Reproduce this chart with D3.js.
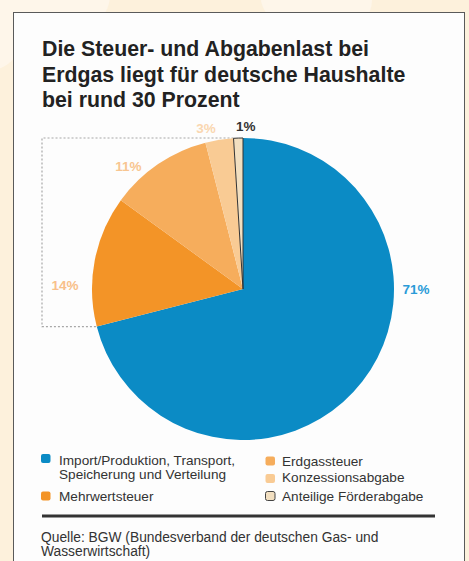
<!DOCTYPE html>
<html><head><meta charset="utf-8">
<script src="https://cdn.jsdelivr.net/npm/d3@7"></script>
<style>html,body{margin:0;padding:0;background:#fdf1dc;}svg{display:block;}</style>
</head><body>
<script>
// ---- data ----
const categories = ["Import/Produktion, Transport, Speicherung und Verteilung","Mehrwertsteuer","Erdgassteuer","Konzessionsabgabe","Anteilige Förderabgabe"];
const shares = [71, 14, 11, 3, 1];
const valueLabels = ["71%", "14%", "11%", "3%", "1%"];
const titleLines = ["Die Steuer- und Abgabenlast bei","Erdgas liegt für deutsche Haushalte","bei rund 30 Prozent"];
const legendLeft = [["Import/Produktion, Transport,","Speicherung und Verteilung"],["Mehrwertsteuer"]];
const legendRight = [["Erdgassteuer"],["Konzessionsabgabe"],["Anteilige Förderabgabe"]];
const sourceLines = ["Quelle: BGW (Bundesverband der deutschen Gas- und","Wasserwirtschaft)"];

// ---- styles / layout ----
const W = 469, H = 561;
const colors = ["#0b8bc5","#f39427","#f6ad5c","#f9cb94","#f2dfc0"];
const labelColors = ["#2a9bd8","#f8c08a","#f8c691","#fad7b0","#333333"];
const labelAngleDeg = [90, 271, 317, 347, 1];
const labelRadius = [173, 178, 168, 165, 163];
const font = "'Liberation Sans', Arial, Helvetica, sans-serif";
const cx = 243, cy = 289, R = 151;

const svg = d3.select("body").append("svg").attr("width", W).attr("height", H);

// background clouds
const bg = svg.append("g");
bg.append("rect").attr("width", W).attr("height", H).attr("fill", "#fdf1dc");
[[30,-10,40],[75,-5,35],[300,-8,40],[340,0,32],[-10,40,30]].forEach(c=>{
  bg.append("circle").attr("cx",c[0]).attr("cy",c[1]).attr("r",c[2]).attr("fill","#fef6ea");
});

// panel
svg.append("rect").attr("x", 13.5).attr("y", 12.5).attr("width", 451).attr("height", 560)
  .attr("fill", "#fdfdfd").attr("stroke", "#5a5a5a").attr("stroke-width", 1);

// title
const title = svg.append("g");
const titleBase = [56, 81.5, 107];
titleLines.forEach((t,i)=>{
  title.append("text").attr("x", 42).attr("y", titleBase[i])
    .attr("font-family", font).attr("font-weight", "bold").attr("font-size", 21.3)
    .attr("fill", "#222").text(t);
});

// pie
const pie = d3.pie().sort(null).value(d=>d).startAngle(0).endAngle(2*Math.PI);
const arcs = pie(shares);
const arc = d3.arc().innerRadius(0).outerRadius(R);
const pt = (a, r) => [cx + r*Math.sin(a), cy - r*Math.cos(a)];

// dotted bracket around tax slices
const taxStart = arcs[1].startAngle;
const lastStart = arcs[arcs.length-1].startAngle;
const bl = pt(taxStart, R);
const tr = pt(lastStart, R);
const leftX = 42;
svg.append("path")
  .attr("d", `M${tr[0]},${cy-R} L${leftX},${cy-R} L${leftX},${bl[1]} L${bl[0]},${bl[1]}`)
  .attr("fill","none").attr("stroke","#a8a8a8").attr("stroke-width",1.2).attr("stroke-dasharray","2,2");

const g = svg.append("g").attr("transform", `translate(${cx},${cy})`);
g.selectAll("path.slice").data(arcs).join("path").attr("class","slice")
  .attr("d", arc).attr("fill", (d,i)=>colors[i])
  .attr("stroke", (d,i)=> i===arcs.length-1 ? "#333" : "none")
  .attr("stroke-width", 1);

// value labels
svg.selectAll("text.val").data(arcs).join("text").attr("class","val")
  .attr("x", (d,i)=> pt(labelAngleDeg[i]*Math.PI/180, labelRadius[i])[0])
  .attr("y", (d,i)=> pt(labelAngleDeg[i]*Math.PI/180, labelRadius[i])[1])
  .attr("text-anchor","middle").attr("dominant-baseline","central")
  .attr("font-family", font).attr("font-weight","bold").attr("font-size", 13.5)
  .attr("fill", (d,i)=>labelColors[i]).text((d,i)=>valueLabels[i]);

// legend
const leg = svg.append("g").attr("font-family", font).attr("font-size", 13.6).attr("fill", "#333");
const leftRows = [[454, 465], [491.5, 501]];
legendLeft.forEach((lines,i)=>{
  const [sy, by] = leftRows[i];
  leg.append("rect").attr("x",41).attr("y",sy).attr("width",9.5).attr("height",9).attr("rx",2)
    .attr("fill", colors[i]);
  lines.forEach((t,j)=> leg.append("text").attr("x",59).attr("y",by+j*13.5).text(t));
});
const rightRows = [[456.5, 465.5], [474, 482], [491.5, 501]];
legendRight.forEach((lines,i)=>{
  const [sy, by] = rightRows[i];
  const k = i + 2;
  leg.append("rect").attr("x",265.5).attr("y",sy).attr("width",9.5).attr("height",9).attr("rx",2)
    .attr("fill", colors[k]).attr("stroke", k===4 ? "#444" : "none").attr("stroke-width",1);
  lines.forEach((t,j)=> leg.append("text").attr("x",282).attr("y",by+j*13.5).text(t));
});

// rule
svg.append("line").attr("x1",42).attr("x2",435).attr("y1",516).attr("y2",516)
  .attr("stroke","#333").attr("stroke-width",3);

// source
const srcBase = [541.5, 556];
sourceLines.forEach((t,i)=>{
  svg.append("text").attr("x",41).attr("y",srcBase[i]).attr("font-family",font).attr("font-size",13.8)
    .attr("fill","#333").text(t);
});
</script>
</body></html>
